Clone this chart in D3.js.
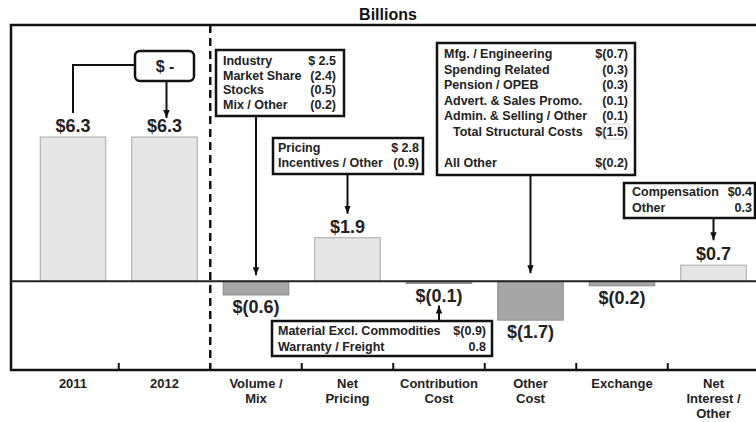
<!DOCTYPE html>
<html>
<head>
<meta charset="utf-8">
<script src="https://cdn.jsdelivr.net/npm/d3@7"></script>
<style>
  body { margin: 0; background: #fff; }
  svg { display: block; font-family: "Liberation Sans", Arial, sans-serif; }
</style>
</head>
<body>
<svg id="chart" width="756" height="422"></svg>
<script>
// data
var categories = ["2011", "2012", "Volume / Mix", "Net Pricing", "Contribution Cost", "Other Cost", "Exchange", "Net Interest / Other"];
var values = [6.3, 6.3, -0.6, 1.9, -0.1, -1.7, -0.2, 0.7];
var tickLabels = [["2011"], ["2012"], ["Volume /", "Mix"], ["Net", "Pricing"], ["Contribution", "Cost"], ["Other", "Cost"], ["Exchange"], ["Net", "Interest /", "Other"]];

var volumeItems = [["Industry", "$ 2.5"], ["Market Share", "(2.4)"], ["Stocks", "(0.5)"], ["Mix / Other", "(0.2)"]];
var pricingItems = [["Pricing", "$ 2.8"], ["Incentives / Other", "(0.9)"]];
var contribItems = [["Material Excl. Commodities", "$(0.9)"], ["Warranty / Freight", "0.8"]];
var otherCostItems = [["Mfg. / Engineering", "$(0.7)"], ["Spending Related", "(0.3)"], ["Pension / OPEB", "(0.3)"],
  ["Advert. & Sales Promo.", "(0.1)"], ["Admin. & Selling / Other", "(0.1)"], ["Total Structural Costs", "$(1.5)"],
  ["", ""], ["All Other", "$(0.2)"]];
var interestItems = [["Compensation", "$0.4"], ["Other", "0.3"]];
var yearChange = "$ -";

var svg = d3.select("#chart");

// frame edges (window.top is reserved, so prefix these)
var fLeft = 11, fRight = 756, fTop = 25, fBottom = 370;

var x = d3.scaleBand()
  .domain(categories)
  .range([27.25, 759.25])
  .paddingInner(0.284)
  .paddingOuter(0.142);

var y = d3.scaleLinear().domain([-2, 7]).range([327, 121]);

function cx(c) { return x(c) + x.bandwidth() / 2; }
function fmt(v) { return v >= 0 ? "$" + v.toFixed(1) : "$(" + (-v).toFixed(1) + ")"; }

// arrow marker
svg.append("defs").append("marker")
  .attr("id", "arrow")
  .attr("markerUnits", "userSpaceOnUse")
  .attr("viewBox", "0 0 10 10")
  .attr("refX", 10).attr("refY", 5)
  .attr("markerWidth", 8).attr("markerHeight", 8)
  .attr("orient", "auto")
  .append("path").attr("d", "M0,1 L10,5 L0,9 Z").attr("fill", "#111");

// title
svg.append("text")
  .attr("x", 388).attr("y", 20)
  .attr("text-anchor", "middle")
  .attr("font-size", 16).attr("font-weight", "bold")
  .attr("fill", "#111")
  .text("Billions");

// bars
svg.selectAll("rect.bar")
  .data(values)
  .enter().append("rect")
  .attr("class", "bar")
  .attr("x", function (d, i) { return x(categories[i]); })
  .attr("width", x.bandwidth())
  .attr("y", function (d) { return y(Math.max(0, d)); })
  .attr("height", function (d) { return Math.abs(y(d) - y(0)); })
  .attr("fill", function (d) { return d >= 0 ? "#e6e6e6" : "#a6a6a6"; })
  .attr("stroke", function (d) { return d >= 0 ? "#a8a8a8" : "#8a8a8a"; })
  .attr("stroke-width", 1);

// value labels
svg.selectAll("text.val")
  .data(values)
  .enter().append("text")
  .attr("class", "val")
  .attr("x", function (d, i) { return cx(categories[i]); })
  .attr("y", function (d) { return d >= 0 ? y(d) - 5 : y(d) + 18; })
  .attr("text-anchor", "middle")
  .attr("font-size", 18).attr("font-weight", "bold")
  .attr("fill", "#222")
  .text(fmt);

// frame (no right side)
svg.append("path")
  .attr("d", "M" + fRight + "," + fTop + "H" + fLeft + "V" + fBottom + "H" + fRight)
  .attr("fill", "none").attr("stroke", "#111").attr("stroke-width", 2.5);

// zero line
svg.append("line")
  .attr("x1", fLeft).attr("x2", fRight)
  .attr("y1", y(0)).attr("y2", y(0))
  .attr("stroke", "#222").attr("stroke-width", 2);

// dashed separator between actuals and drivers
var sepX = x(categories[2]) - x.step() * x.paddingInner() / 2;
svg.append("line")
  .attr("x1", sepX).attr("x2", sepX)
  .attr("y1", fTop).attr("y2", fBottom)
  .attr("stroke", "#111").attr("stroke-width", 2.5)
  .attr("stroke-dasharray", "8,5");

// ticks (band boundaries, none at the separator)
var tickCats = categories.slice(1).filter(function (c, i) { return i !== 1; });
svg.selectAll("line.tick")
  .data(tickCats)
  .enter().append("line")
  .attr("class", "tick")
  .attr("x1", function (c) { return x(c) - x.step() * x.paddingInner() / 2; })
  .attr("x2", function (c) { return x(c) - x.step() * x.paddingInner() / 2; })
  .attr("y1", fBottom).attr("y2", fBottom - 7)
  .attr("stroke", "#111").attr("stroke-width", 2);

// category labels
var cat = svg.selectAll("text.cat")
  .data(categories)
  .enter().append("text")
  .attr("class", "cat")
  .attr("text-anchor", "middle")
  .attr("font-size", 13).attr("font-weight", "bold")
  .attr("fill", "#222");
cat.each(function (c, i) {
  var t = d3.select(this);
  tickLabels[i].forEach(function (line, j) {
    t.append("tspan").attr("x", cx(c)).attr("y", 388 + j * 15).text(line);
  });
});

// callout boxes
function callout(items, box) {
  var g = svg.append("g");
  g.append("rect")
    .attr("x", box.x).attr("y", box.y)
    .attr("width", box.w).attr("height", box.h)
    .attr("fill", "#fff").attr("stroke", "#111").attr("stroke-width", 2.5);
  items.forEach(function (it, i) {
    var by = box.base + i * box.lh;
    g.append("text")
      .attr("x", box.x + box.padL + (it[0].indexOf("Total") === 0 ? 9 : 0)).attr("y", by)
      .attr("font-size", 12.5).attr("font-weight", "bold").attr("fill", "#222")
      .text(it[0]);
    g.append("text")
      .attr("x", box.x + box.w - box.padR).attr("y", by)
      .attr("text-anchor", "end")
      .attr("font-size", 12.5).attr("font-weight", "bold").attr("fill", "#222")
      .text(it[1]);
  });
  return g;
}

function arrow(xp, y1, y2) {
  svg.append("line")
    .attr("x1", xp).attr("x2", xp).attr("y1", y1).attr("y2", y2)
    .attr("stroke", "#111").attr("stroke-width", 2)
    .attr("marker-end", "url(#arrow)");
}

var c;
c = categories[2];
arrow(cx(c), 116, y(0) - 6);
callout(volumeItems, { x: 216, y: 50, w: 128, h: 66, base: 65, lh: 14.5, padL: 7, padR: 8 });

c = categories[3];
arrow(cx(c), 174, y(values[3]) - 24);
callout(pricingItems, { x: 273, y: 138, w: 150, h: 36, base: 152, lh: 15, padL: 5, padR: 4 });

c = categories[5];
arrow(cx(c), 175, y(0) - 8);
var oc = callout(otherCostItems, { x: 437, y: 43, w: 198, h: 132, base: 58, lh: 15.5, padL: 7, padR: 7 });
oc.append("rect").attr("x", 603).attr("y", 124).attr("width", 26).attr("height", 15)
  .attr("fill", "none").attr("stroke", "#c8c8c8").attr("stroke-width", 0.8);

c = categories[7];
arrow(cx(c), 218, y(values[7]) - 25);
callout(interestItems, { x: 624, y: 183, w: 131, h: 35, base: 196, lh: 15.5, padL: 8, padR: 3 });

c = categories[4];
arrow(cx(c), 321, y(values[4]) + 22);
callout(contribItems, { x: 272, y: 321, w: 220, h: 35, base: 335, lh: 16, padL: 6, padR: 6 });

// "$ -" box linking 2011 and 2012
var c11 = cx(categories[0]), c12 = cx(categories[1]);
svg.append("path")
  .attr("d", "M135,65H" + c11 + "V" + (y(values[0]) - 24))
  .attr("fill", "none").attr("stroke", "#111").attr("stroke-width", 2);
arrow(c12 + 2, 81, y(values[1]) - 19);
svg.append("rect")
  .attr("x", 135).attr("y", 51).attr("width", 59).attr("height", 30)
  .attr("rx", 5).attr("ry", 5)
  .attr("fill", "#fff").attr("stroke", "#111").attr("stroke-width", 2.5);
svg.append("text")
  .attr("x", 165).attr("y", 72)
  .attr("text-anchor", "middle")
  .attr("font-size", 16).attr("font-weight", "bold").attr("fill", "#222")
  .text(yearChange);
</script>
</body>
</html>
